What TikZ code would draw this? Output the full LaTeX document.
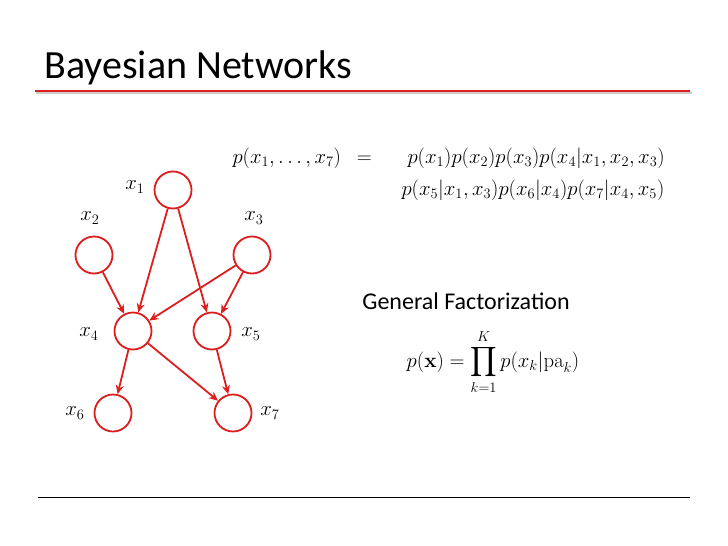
\documentclass[tikz,border=0pt]{standalone}
\usepackage{amsmath}
\usepackage[no-math]{fontspec}
\setmainfont{Carlito}
\usetikzlibrary{arrows.meta}
\definecolor{rd}{RGB}{220,30,30}
\begin{document}
\begin{tikzpicture}[x=1pt,y=-1pt,
  vn/.style={circle,draw=rd,line width=1.8pt,minimum size=37pt,inner sep=0pt},
  ed/.style={draw=rd,line width=1.8pt,-{Stealth[length=9pt,width=8pt]}},
  lb/.style={font=\fontsize{20}{20}\selectfont}]
\useasboundingbox (0,0) rectangle (728,546);
\node[anchor=west,font=\fontsize{40}{40}\selectfont] (t) at (41,68) {Bayesian Networks};
\fill[gray!40] (36,92) rectangle (692,94);
\fill[rd] (35,89.5) rectangle (690,92);
\draw[line width=0.8pt] (38,497) -- (690,497);
\node[vn] (x1) at (173,190) {};
\node[vn] (x2) at (94,255) {};
\node[vn] (x3) at (252,255) {};
\node[vn] (x4) at (133,331) {};
\node[vn] (x5) at (212,331) {};
\node[vn] (x6) at (113,413) {};
\node[vn] (x7) at (233,413) {};
\node[lb] (l1) at (135,187) {$x_1$};
\node[lb] (l2) at (90,218) {$x_2$};
\node[lb] (l3) at (254,218) {$x_3$};
\node[lb] (l4) at (89,334) {$x_4$};
\node[lb] (l5) at (251,334) {$x_5$};
\node[lb] (l6) at (75,413) {$x_6$};
\node[lb] (l7) at (270,413) {$x_7$};
\draw[ed] (x1) -- (x4);
\draw[ed] (x1) -- (x5);
\draw[ed] (x2) -- (x4);
\draw[ed] (x3) -- (x4);
\draw[ed] (x3) -- (x5);
\draw[ed] (x4) -- (x6);
\draw[ed] (x4) -- (x7);
\draw[ed] (x5) -- (x7);
\node[anchor=west,font=\fontsize{20}{20}\selectfont] (e1) at (229,158) {$p(x_1,\ldots,x_7)\enspace=\quad\enspace p(x_1)p(x_2)p(x_3)p(x_4|x_1,x_2,x_3)$};
\node[anchor=west,font=\fontsize{20}{20}\selectfont] (e2) at (398,190) {$p(x_5|x_1,x_3)p(x_6|x_4)p(x_7|x_4,x_5)$};
\node[font=\fontsize{24}{24}\selectfont] (g) at (466,301) {General Factorization};
\node[font=\fontsize{20}{20}\selectfont] (f) at (493,362) {$p(\mathbf{x})=\displaystyle\prod_{k=1}^{K}p(x_k|\mathrm{pa}_k)$};
\end{tikzpicture}
\end{document}
